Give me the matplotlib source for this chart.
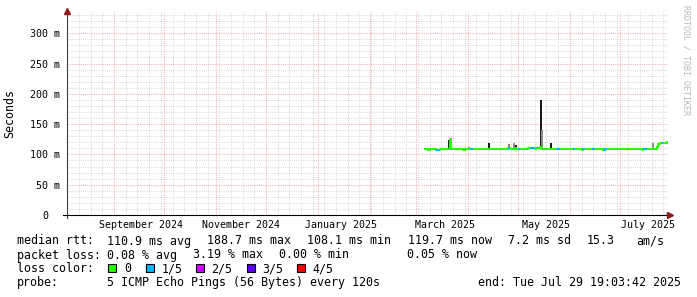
import pandas as pd
import matplotlib.pyplot as plt
import matplotlib.dates as mdates
import matplotlib.transforms as mtransforms
from matplotlib.patches import Rectangle
from matplotlib.ticker import MultipleLocator

W, H = 697, 297
MONO = "DejaVu Sans Mono"

# graph window (last 360 days)
t_end = pd.Timestamp("2025-07-29 19:03:42")
t_start = t_end - pd.Timedelta(days=360)

# daily median rtt in ms, 2025-03-06 .. 2025-07-29
days = pd.date_range("2025-03-06", "2025-07-29", freq="D")
median_ms = [
    # Mar 6-31
    108.5, 108.3, 108.0, 108.2, 108.4, 108.1, 108.6, 108.0, 107.9, 108.3,
    108.5, 108.2, 108.4, 108.8, 109.0, 125.0, 109.0, 108.3, 108.1, 108.4,
    108.2, 108.6, 108.3, 108.0, 108.5, 108.7,
    # Apr
    108.4, 108.9, 108.2, 108.6, 108.3, 108.5, 108.1, 108.7, 108.4, 108.2,
    108.6, 108.9, 109.5, 108.5, 108.3, 108.7, 108.4, 109.0, 108.6, 108.2,
    108.8, 108.5, 109.2, 109.6, 111.0, 109.3, 108.7, 109.4, 110.0, 109.5,
    # May
    109.1, 108.8, 109.3, 109.7, 109.2, 108.9, 110.2, 110.6, 110.4, 110.0,
    109.6, 109.8, 110.3, 111.5, 109.4, 108.9, 109.1, 108.7, 108.9, 109.6,
    108.8, 108.5, 108.9, 108.4, 108.2, 108.6, 108.8, 108.4, 108.3, 108.7,
    108.9,
    # Jun
    108.6, 108.4, 108.8, 108.3, 108.5, 108.7, 108.1, 107.9, 108.2, 108.6,
    108.9, 109.1, 108.8, 108.5, 108.7, 109.0, 108.6, 108.4, 108.9, 108.3,
    108.0, 108.4, 108.7, 108.5, 108.8, 109.1, 108.9, 108.6, 108.7, 108.5,
    # Jul 1-29
    108.8, 108.4, 108.7, 109.0, 108.6, 108.9, 108.5, 108.3, 108.7, 108.4,
    108.8, 108.6, 108.2, 108.0, 108.5, 108.3, 108.7, 108.9, 108.4, 109.5,
    108.8, 108.6, 113.0, 117.5, 118.8, 119.0, 119.2, 119.5, 119.7,
]

# days where 1 of 5 pings was lost
loss_days = pd.to_datetime([
    "2025-03-12", "2025-03-13", "2025-03-14", "2025-04-02", "2025-04-03",
    "2025-04-25", "2025-05-01", "2025-05-08", "2025-05-09", "2025-05-10",
    "2025-05-24", "2025-05-25", "2025-06-03", "2025-06-08", "2025-06-09",
    "2025-06-14", "2025-06-15", "2025-06-21", "2025-06-22", "2025-07-05",
    "2025-07-15", "2025-07-16", "2025-07-26",
])

# smoke spikes (max ping rtt above the median)
spike_days = pd.to_datetime([
    "2025-03-20", "2025-04-01", "2025-04-13", "2025-04-25", "2025-04-28",
    "2025-04-29", "2025-05-14", "2025-05-15", "2025-05-20", "2025-07-20",
])
spike_top_ms = [124.0, 112.0, 119.0, 117.0, 118.0, 115.0, 189.5, 140.0, 118.0, 119.0]
spike_dark = [True, False, True, False, False, True, True, False, True, False]

y_ticks = [0, 50, 100, 150, 200, 250, 300]
y_labels = ["0", "50 m", "100 m", "150 m", "200 m", "250 m", "300 m"]

month_label_days = pd.to_datetime(["2024-09-17", "2024-11-16", "2025-01-15",
                                   "2025-03-18", "2025-05-18", "2025-07-18"])
month_labels = ["September 2024", "November 2024", "January 2025",
                "March 2025", "May 2025", "July 2025"]

loss_colors = ["#26ff00", "#00b8ff", "#cc00ff", "#5e00ff", "#ff0000"]
loss_names = ["0", "1/5", "2/5", "3/5", "4/5"]

fig = plt.figure(figsize=(W / 100, H / 100), dpi=100)
fig.patch.set_facecolor("white")
ax = fig.add_axes([67 / W, 1 - 215 / H, 601 / W, 203 / H])
ax.set_xlim(t_start, t_end)
ax.set_ylim(0, 335)

# grid
ax.xaxis.set_major_locator(mdates.MonthLocator())
ax.xaxis.set_minor_locator(mdates.WeekdayLocator(byweekday=mdates.SU))
ax.set_yticks(y_ticks, y_labels)
ax.yaxis.set_minor_locator(MultipleLocator(10))
ax.grid(which="minor", color="#d8d8d8", linestyle=(0, (1, 1.2)), linewidth=0.72)
ax.grid(which="major", color="#f2aaaa", linestyle=(0, (1, 1.2)), linewidth=0.72)
ax.set_axisbelow(True)
ax.tick_params(which="both", length=0, labelbottom=False)
ax.tick_params(axis="y", pad=5, labelsize=7.2)
for lab in ax.get_yticklabels():
    lab.set_family(MONO)
ax.yaxis.get_major_ticks()[0].set_pad(13.7)
for s in ax.spines.values():
    s.set_visible(False)

# x labels
lab_tr = mtransforms.offset_copy(ax.get_xaxis_transform(), fig=fig, y=-13, units="dots")
for d, lab in zip(month_label_days, month_labels):
    ax.text(d, 0, lab, transform=lab_tr, ha="center", va="baseline",
            fontsize=7.2, family=MONO)

ax.set_ylabel("Seconds", family=MONO, fontsize=8.4)
ax.yaxis.set_label_coords(-51 / 601, 0.5)

# smoke
one_day = pd.Timedelta(days=1)
day_pos = {d: i for i, d in enumerate(days)}
for d, top, dark in zip(spike_days, spike_top_ms, spike_dark):
    base = median_ms[day_pos[d]]
    ax.bar(d, top - base, bottom=base, width=1.2, align="edge",
           color="#1a1a1a" if dark else "#8c8c8c", zorder=2, linewidth=0)

# median line coloured by loss
line_x = list(days) + [t_end]
line_y = median_ms + [median_ms[-1]]
ax.step(line_x, line_y, where="post", color=loss_colors[0], lw=1.5, zorder=3)
for d in loss_days:
    v = median_ms[day_pos[d]]
    ax.hlines(v, d, d + one_day, color=loss_colors[1], lw=1.5, zorder=4)

# axes with arrows
ax.plot([-4 / 601, 1.0], [0, 0], transform=ax.transAxes, color="black",
        lw=0.8, clip_on=False, zorder=5)
ax.plot([0, 0], [-3 / 203, 1.0], transform=ax.transAxes, color="#404040",
        lw=0.8, clip_on=False, zorder=5)
ax.plot([0], [1 + 1.5 / 203], marker="^", ms=4.5, color="#8b1a1a",
        transform=ax.transAxes, clip_on=False, zorder=6)
ax.plot([1.004], [0], marker=">", ms=4.5, color="#8b1a1a",
        transform=ax.transAxes, clip_on=False, zorder=6)


def ftext(x, y, s, **kw):
    kw.setdefault("fontsize", 8.4)
    kw.setdefault("family", MONO)
    kw.setdefault("va", "baseline")
    fig.text(x / W, 1 - y / H, s, **kw)


# watermark
ftext(686, 5, "RRDTOOL / TOBI OETIKER", rotation=-90, fontsize=6,
      color="#b8b8b8", va="top", ha="center")

# legend rows
ftext(16.7, 244.5, "median rtt:")
ftext(107.3, 244.5, "110.9 ms avg")
ftext(207.3, 244.5, "188.7 ms max")
ftext(306.7, 244.5, "108.1 ms min")
ftext(408.3, 244.5, "119.7 ms now")
ftext(508.3, 244.5, "7.2 ms sd")
ftext(586.7, 244.5, "15.3")
ftext(636.0, 244.5, "am/s")

ftext(16.7, 258.5, "packet loss:")
ftext(107.3, 258.5, "0.08 % avg")
ftext(193.3, 258.5, "3.19 % max")
ftext(279.3, 258.5, "0.00 % min")
ftext(406.7, 258.5, "0.05 % now")

ftext(16.7, 272, "loss color:")
box_x = [108.3, 145.7, 196.0, 246.7, 296.7]
for bx, col, name in zip(box_x, loss_colors, loss_names):
    fig.add_artist(Rectangle((bx / W, 1 - 272 / H), 8 / W, 8 / H,
                             transform=fig.transFigure, facecolor=col,
                             edgecolor="black", linewidth=0.8))
    ftext(bx + 15.5, 272, name)

ftext(16.7, 286, "probe:")
ftext(107.3, 286, "5 ICMP Echo Pings (56 Bytes) every 120s")
ftext(478.3, 286, "end: Tue Jul 29 19:03:42 2025")

fig.savefig("out.png", dpi=100)
